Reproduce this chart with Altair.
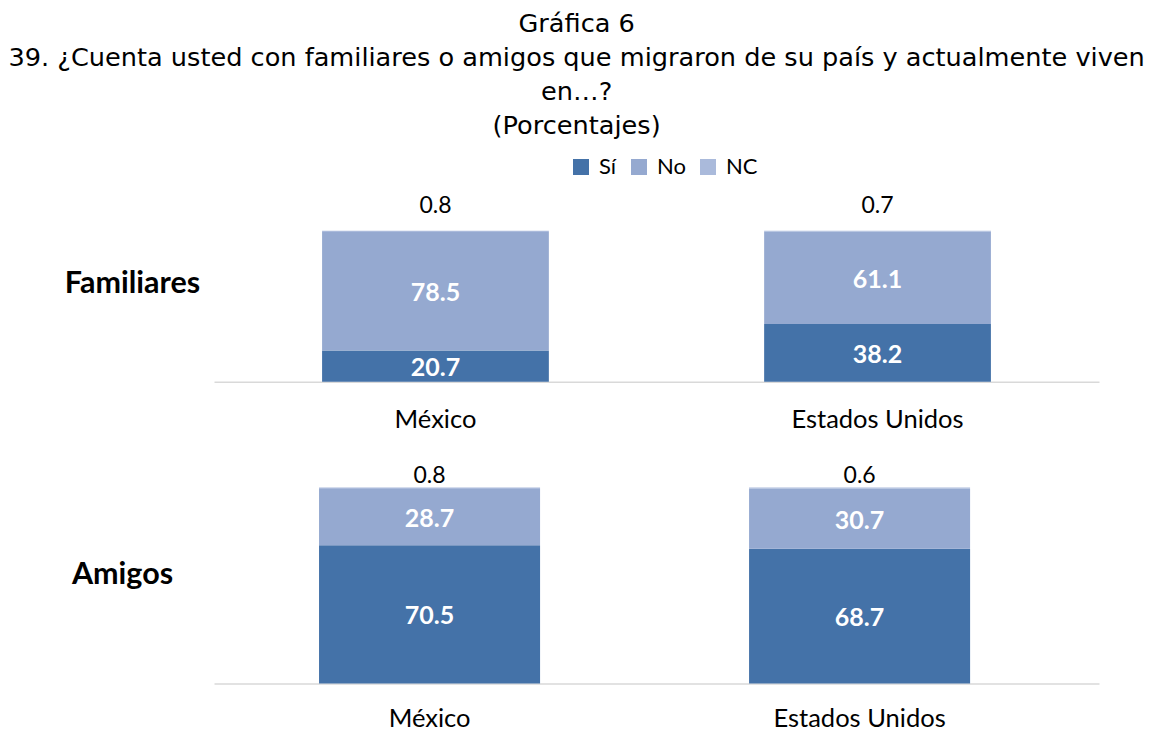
import altair as alt
import pandas as pd

paises = ["México", "Estados Unidos"]
respuestas = ["Sí", "No", "NC"]
familiares_si = [20.7, 38.2]
familiares_no = [78.5, 61.1]
familiares_nc = [0.8, 0.7]
amigos_si = [70.5, 68.7]
amigos_no = [28.7, 30.7]
amigos_nc = [0.8, 0.6]
colores = ["#4472A8", "#95A9D0", "#AABADB"]

titulo = [
    "Gráfica 6",
    "39. ¿Cuenta usted con familiares o amigos que migraron de su país y actualmente viven",
    "en…?",
    "(Porcentajes)",
]


def make_df(si, no, nc):
    rows = []
    for i, p in enumerate(paises):
        for j, (r, vals) in enumerate(zip(respuestas, [si, no, nc])):
            rows.append({"pais": p, "resp": r, "orden": j, "valor": vals[i]})
    return pd.DataFrame(rows)


LABEL_FONT = "Lato"


def panel(df, nombre, height, ymax, pin, pout, align, title_x, title_y, nc_dy, lab_pad):
    base = (
        alt.Chart(df)
        .transform_stack(stack="valor", as_=["v0", "v1"], groupby=["pais"],
                         sort=[alt.SortField("orden", order="ascending")])
        .transform_calculate(mid="(datum.v0 + datum.v1) / 2")
    )
    xenc = alt.X(
        "pais:N",
        sort=paises,
        title=None,
        scale=alt.Scale(paddingInner=pin, paddingOuter=pout, align=align),
        axis=alt.Axis(labelAngle=0, ticks=False, domainColor="#d9d9d9", domainWidth=1.5,
                      labelFont=LABEL_FONT, labelFontSize=25.5, labelColor="#000000",
                      labelPadding=lab_pad, labelBaseline="top"),
    )
    yscale = alt.Scale(domain=[0, ymax], nice=False, zero=True)
    yaxis = alt.Axis(labels=False, ticks=False, domain=False, grid=False,
                     titleAngle=0, titleX=title_x, titleY=title_y,
                     titleAlign="center", titleBaseline="middle",
                     titleFont=LABEL_FONT, titleFontSize=30.5, titleFontWeight="bold",
                     titleColor="#000000")
    bars = base.mark_bar().encode(
        x=xenc,
        y=alt.Y("v0:Q", scale=yscale, axis=yaxis, title=nombre),
        y2="v1:Q",
        color=alt.Color(
            "resp:N",
            scale=alt.Scale(domain=respuestas, range=colores),
            legend=alt.Legend(title=None, orient="none", direction="horizontal",
                              legendX=356, legendY=-37, symbolType="square",
                              symbolSize=256, symbolStrokeWidth=0, labelFont=LABEL_FONT,
                              labelFontSize=22, labelColor="#000000", columnPadding=11,
                              labelOffset=7),
        ),
        order=alt.Order("orden:Q"),
    )
    inner = base.transform_filter("datum.resp != 'NC'").mark_text(
        color="white", font=LABEL_FONT, fontWeight="bold", fontSize=25, baseline="middle",
        dy=2
    ).encode(
        x=alt.X("pais:N", sort=paises),
        y=alt.Y("mid:Q", scale=yscale, title=nombre),
        text=alt.Text("valor:Q", format=".1f"),
    )
    top = base.transform_filter("datum.resp == 'NC'").mark_text(
        color="black", font=LABEL_FONT, fontSize=23, baseline="middle", dy=nc_dy
    ).encode(
        x=alt.X("pais:N", sort=paises),
        y=alt.Y("v1:Q", scale=yscale, title=nombre),
        text=alt.Text("valor:Q", format=".1f"),
    )
    return alt.layer(bars, inner, top).properties(width=885, height=height)


p1 = panel(make_df(familiares_si, familiares_no, familiares_nc), "Familiares",
           151 * 1.25, 125, 0.487, 0.2445, 0.5, -82, 90, -25, 26)
p2 = panel(make_df(amigos_si, amigos_no, amigos_nc), "Amigos",
           196 * 1.12, 112, 0.486, 0.272, 0.449, -92, 110, -12, 23)

chart = (
    alt.vconcat(p1, p2, spacing=30)
    .properties(
        title=alt.TitleParams(text=titulo, font="DejaVu Sans", fontSize=25.6,
                              fontWeight="normal", color="#000000", anchor="middle",
                              frame="bounds", lineHeight=34, offset=16, dx=-5),
        padding={"left": 0, "top": 4, "right": 0, "bottom": 2},
    )
    .configure_view(strokeWidth=0)
)

chart.save("out.html", embed_options={"renderer": "svg", "actions": False})
